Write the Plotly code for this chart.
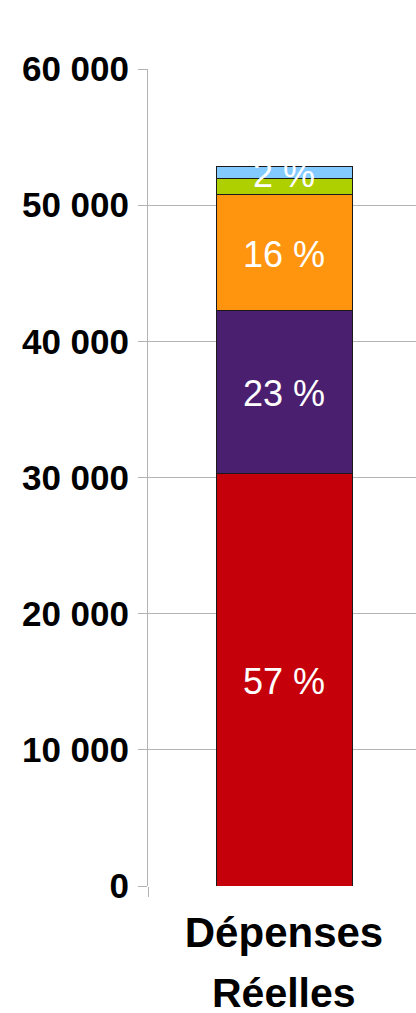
import plotly.graph_objects as go

category = ["Dépenses"]
category_line2 = "Réelles"
series_names = ["Personnel", "Charges générales", "Autres charges", "Intérêts", "Divers"]
series_values = [30280, 12020, 8520, 1120, 930]
series_colors = ["#c5000b", "#4b1f6f", "#ff950e", "#aecf00", "#83caff"]
series_labels = ["57 %", "23 %", "16 %", "", "2 %"]
y_ticks = [0, 10000, 20000, 30000, 40000, 50000, 60000]
y_ticktext = ["0", "10 000", "20 000", "30 000", "40 000", "50 000", "60 000"]

FONT = "Liberation Sans, Arial, sans-serif"
GRID = "#b3b3b3"

fig = go.Figure()
base = 0
annotations = []
for name, val, col, lab in zip(series_names, series_values, series_colors, series_labels):
    fig.add_trace(go.Bar(
        x=[0], y=[val], name=name, width=0.5,
        marker=dict(color=col, line=dict(color="#1a1a1a", width=1)),
        hoverinfo="name+y",
    ))
    if lab:
        annotations.append(dict(
            x=0, y=base + val / 2, xref="x", yref="y", text=lab, showarrow=False,
            font=dict(family=FONT, size=36, color="white"), yshift=-2,
        ))
    base += val

# second line of the category label
annotations.append(dict(
    x=0, y=0, xref="x", yref="paper", text=category_line2, showarrow=False,
    yanchor="middle", yshift=-107, borderpad=0,
    font=dict(family=FONT, size=41, color="black", weight="bold"),
))

fig.update_layout(
    barmode="stack",
    width=416, height=1013,
    margin=dict(l=148, r=0, t=69, b=127),
    paper_bgcolor="white", plot_bgcolor="white",
    showlegend=False,
    annotations=annotations,
    font=dict(family=FONT, color="black"),
    xaxis=dict(
        range=[-0.5, 0.4853], tickvals=[0], ticktext=category,
        showgrid=False, zeroline=False, showline=False,
        ticks="outside", ticklen=0, tickcolor="rgba(0,0,0,0)",
        ticklabelstandoff=10, automargin=False,
        tickfont=dict(family=FONT, size=42, color="black", weight="bold"),
        minor=dict(tickvals=[-0.5], ticks="outside", ticklen=10, tickcolor=GRID, tickwidth=1, showgrid=False),
        fixedrange=True,
    ),
    yaxis=dict(
        range=[0, 60000], tickvals=y_ticks, ticktext=y_ticktext,
        showgrid=True, gridcolor=GRID, gridwidth=1, zeroline=False,
        showline=True, linecolor=GRID, linewidth=1, automargin=False,
        ticks="outside", ticklen=9, tickcolor=GRID, ticklabelstandoff=2,
        tickfont=dict(family=FONT, size=35, color="black", weight="bold"),
        fixedrange=True,
    ),
)

fig.write_html(
    "out.html",
    config={"displayModeBar": False},
    post_script="document.body.style.margin='0';document.body.style.overflow='hidden';",
)
